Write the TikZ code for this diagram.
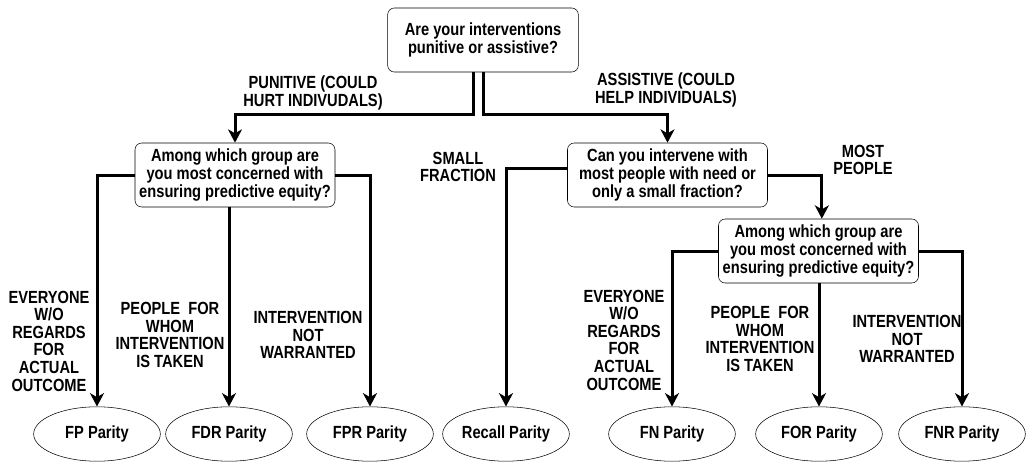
\documentclass[tikz,border=0pt]{standalone}
\usepackage{fontspec}
\setmainfont{Liberation Sans}
\usepackage{tikz}
\usetikzlibrary{positioning,shapes.geometric,arrows.meta}

\begin{document}
\begin{tikzpicture}[x=0.75pt,y=-0.75pt,
                tall/.style={yscale=1.2,transform shape},
                font=\bfseries\fontsize{11}{11}\selectfont,
                question/.style={tall,draw,thin,rounded corners=5pt,align=center,minimum width=150pt,minimum height=40pt,inner sep=1pt,font=\bfseries\fontsize{11}{11.5}\selectfont},
                parity/.style={tall,draw,thin,ellipse,minimum width=95pt,minimum height=34pt,inner sep=0pt},
                branch/.style={tall,align=center,inner sep=1pt},
                flow/.style={line width=2.25pt,-{Stealth[length=10pt,width=10.5pt,inset=3pt]}}]
                \useasboundingbox (0,0) rectangle (1026,464);
                \node[question,minimum width=143pt] (top) at (483,40) {Are your interventions\\punitive or assistive?};
                \node[question] (grpL) at (235,175) {Among which group are\\you most concerned with\\ensuring predictive equity?};
                \node[question] (reach) at (667.5,175) {Can you intervene with\\most people with need or\\only a small fraction?};
                \node[question] (grpR) at (818.5,251) {Among which group are\\you most concerned with\\ensuring predictive equity?};
                \foreach \n/\x/\lbl in {fp/97/FP,fdr/229/FDR,fpr/370/FPR,recall/506/Recall,fn/672/FN,forp/819/FOR,fnr/962/FNR}
                    \node[parity] (\n) at (\x,434) {\lbl\ Parity};
                \draw[flow] ([xshift=-7.5pt]top.south) -- ++(0,42) -| (grpL.north);
                \draw[flow] (top.south) -- ++(0,42) -| (reach.north);
                \draw[flow] (grpL.west) -| (fp.north);
                \draw[flow] (grpL.south -| fdr.north) -- (fdr.north);
                \draw[flow] (grpL.east) -| (fpr.north);
                \draw[flow] ([yshift=5pt]reach.west) -| (recall.north);
                \draw[flow] (reach.east) -| ([xshift=2.5pt]grpR.north);
                \draw[flow] (grpR.west) -| (fn.north);
                \draw[flow] (grpR.south -| forp.north) -- (forp.north);
                \draw[flow] (grpR.east) -| (fnr.north);
                \node[branch,font=\bfseries\fontsize{11}{9.6}\selectfont] (punitive) at (313,93) {PUNITIVE (COULD\\HURT INDIVUDALS)};
                \node[branch,font=\bfseries\fontsize{11}{9.6}\selectfont] (assistive) at (666,90) {ASSISTIVE (COULD\\HELP INDIVIDUALS)};
                \node[branch] (small) at (458,167) {SMALL\\FRACTION};
                \node[branch] (most) at (863,160) {MOST\\PEOPLE};
                \node[branch] (everyL) at (49,341) {EVERYONE\\W/O\\REGARDS\\FOR\\ACTUAL\\OUTCOME};
                \node[branch] (takenL) at (170,335) {PEOPLE\ \ FOR\\WHOM\\INTERVENTION\\IS TAKEN};
                \node[branch] (notL) at (308,335) {INTERVENTION\\NOT\\WARRANTED};
                \node[branch] (everyR) at (624,340) {EVERYONE\\W/O\\REGARDS\\FOR\\ACTUAL\\OUTCOME};
                \node[branch] (takenR) at (760,339) {PEOPLE\ \ FOR\\WHOM\\INTERVENTION\\IS TAKEN};
                \node[branch] (notR) at (907,339) {INTERVENTION\\NOT\\WARRANTED};
            \end{tikzpicture}
\end{document}
